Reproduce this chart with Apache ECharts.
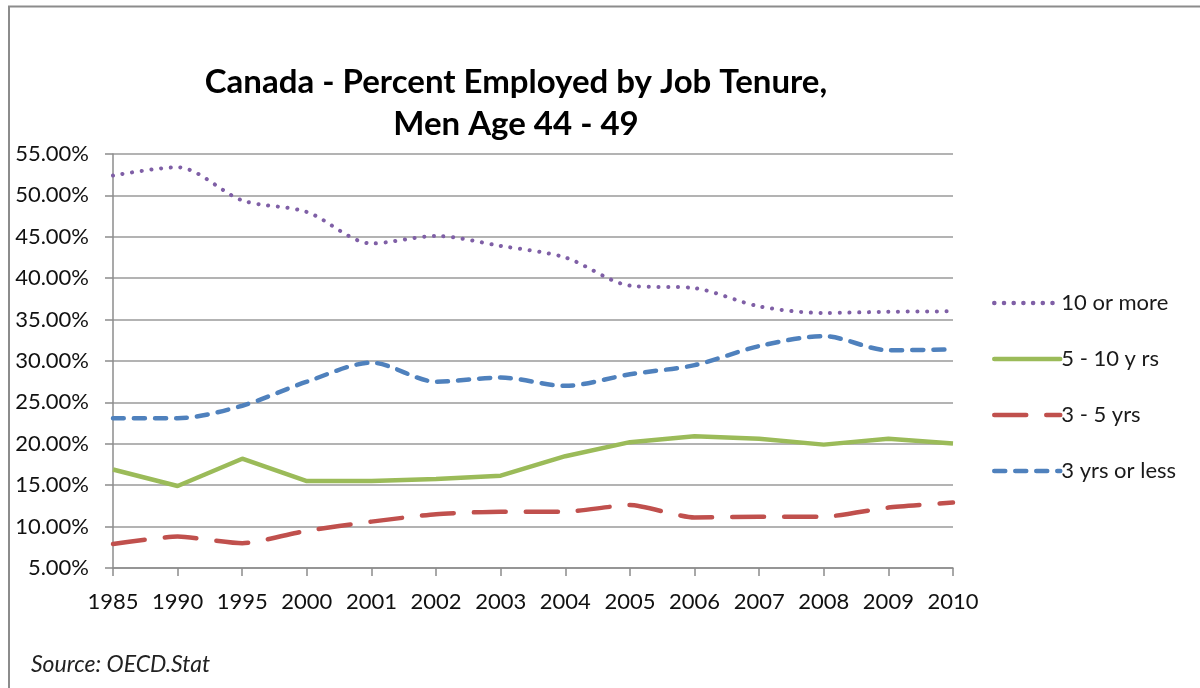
<!DOCTYPE html>
<html>
<head>
<meta charset="utf-8">
<script src="https://cdn.jsdelivr.net/npm/echarts@6/dist/echarts.min.js"></script>
<style>
html,body{margin:0;padding:0;background:#fff;}
#c{width:1200px;height:688px;}
</style>
</head>
<body>
<div id="c"></div>
<script>
const years = ['1985','1990','1995','2000','2001','2002','2003','2004','2005','2006','2007','2008','2009','2010'];
const tenMore   = [52.4, 53.4, 49.4, 48.0, 44.2, 45.1, 43.9, 42.5, 39.1, 38.8, 36.6, 35.8, 35.95, 36.0];
const fiveTen   = [16.9, 14.9, 18.2, 15.5, 15.5, 15.75, 16.15, 18.5, 20.2, 20.9, 20.6, 19.9, 20.6, 20.05];
const threeFive = [7.9, 8.8, 8.0, 9.5, 10.6, 11.5, 11.8, 11.8, 12.6, 11.1, 11.2, 11.2, 12.3, 12.9];
const threeLess = [23.1, 23.1, 24.6, 27.5, 29.8, 27.5, 28.0, 27.0, 28.4, 29.5, 31.8, 33.0, 31.3, 31.4];
const seriesNames = ['10 or more', '5 - 10 y rs', '3 - 5 yrs', '3 yrs or less'];

const chart = echarts.init(document.getElementById('c'), null, {renderer:'canvas'});
const font = 'Lato, "Open Sans", sans-serif';
chart.setOption({
  backgroundColor:'#fff',
  animation:false,
  title:[{
    text:'Canada - Percent Employed by Job Tenure,\nMen Age 44 - 49',
    left:511, top:56, textAlign:'center',
    textStyle:{fontFamily:font, fontWeight:'bold', fontSize:33, lineHeight:42, color:'#000'}
  },{
    text:'Source: OECD.Stat',
    left:26, top:648,
    textStyle:{fontFamily:font, fontStyle:'italic', fontWeight:'normal', fontSize:23, color:'#222'}
  }],
  graphic:[{
    type:'polyline', silent:true,
    shape:{points:[[9,688],[9,6.5],[1200,6.5]]},
    style:{stroke:'#8c8c8c', lineWidth:2, fill:null}
  }],
  legend:{
    orient:'vertical', left:987, top:287, itemWidth:66, itemHeight:20, itemGap:34,
    itemStyle:{opacity:0, borderWidth:0},
    lineStyle:{width:4.5, cap:'round'},
    textStyle:{fontFamily:font, fontSize:22, color:'#1a1a1a', padding:[0,0,0,-4]},
    data:seriesNames
  },
  grid:{left:113, right:247, top:154, bottom:120},
  xAxis:{
    type:'category', data:years, boundaryGap:false,
    axisLine:{lineStyle:{color:'#8c8c8c', width:1.5}},
    axisTick:{show:true, length:8, alignWithLabel:true, lineStyle:{color:'#8c8c8c', width:1.5}},
    axisLabel:{fontFamily:font, fontSize:22, color:'#111', margin:23, interval:0}
  },
  yAxis:{
    type:'value', min:5, max:55, interval:5,
    axisLine:{show:true, lineStyle:{color:'#8c8c8c', width:1.5}},
    axisTick:{show:true, length:8, lineStyle:{color:'#8c8c8c', width:1.5}},
    splitLine:{lineStyle:{color:'#9a9a9a', width:1.5}},
    axisLabel:{fontFamily:font, fontSize:22, color:'#111', margin:24,
      formatter:v=>v.toFixed(2)+'%'}
  },
  series:[
    {name:seriesNames[0], type:'line', data:tenMore, symbol:'none', smooth:0.3,
      itemStyle:{color:'#7f5fa6'},
      lineStyle:{color:'#7f5fa6', width:4, type:[0.1,9.6], cap:'round'}},
    {name:seriesNames[1], type:'line', data:fiveTen, symbol:'none', smooth:false,
      itemStyle:{color:'#9bbb59'},
      lineStyle:{color:'#9bbb59', width:4.5}},
    {name:seriesNames[2], type:'line', data:threeFive, symbol:'none', smooth:0.2,
      itemStyle:{color:'#c0504d'},
      lineStyle:{color:'#c0504d', width:4.5, type:[32,20], cap:'round'}},
    {name:seriesNames[3], type:'line', data:threeLess, symbol:'none', smooth:0.3,
      itemStyle:{color:'#4f81bd'},
      lineStyle:{color:'#4f81bd', width:4.5, type:[11,10], cap:'round'}}
  ]
});
</script>
</body>
</html>
